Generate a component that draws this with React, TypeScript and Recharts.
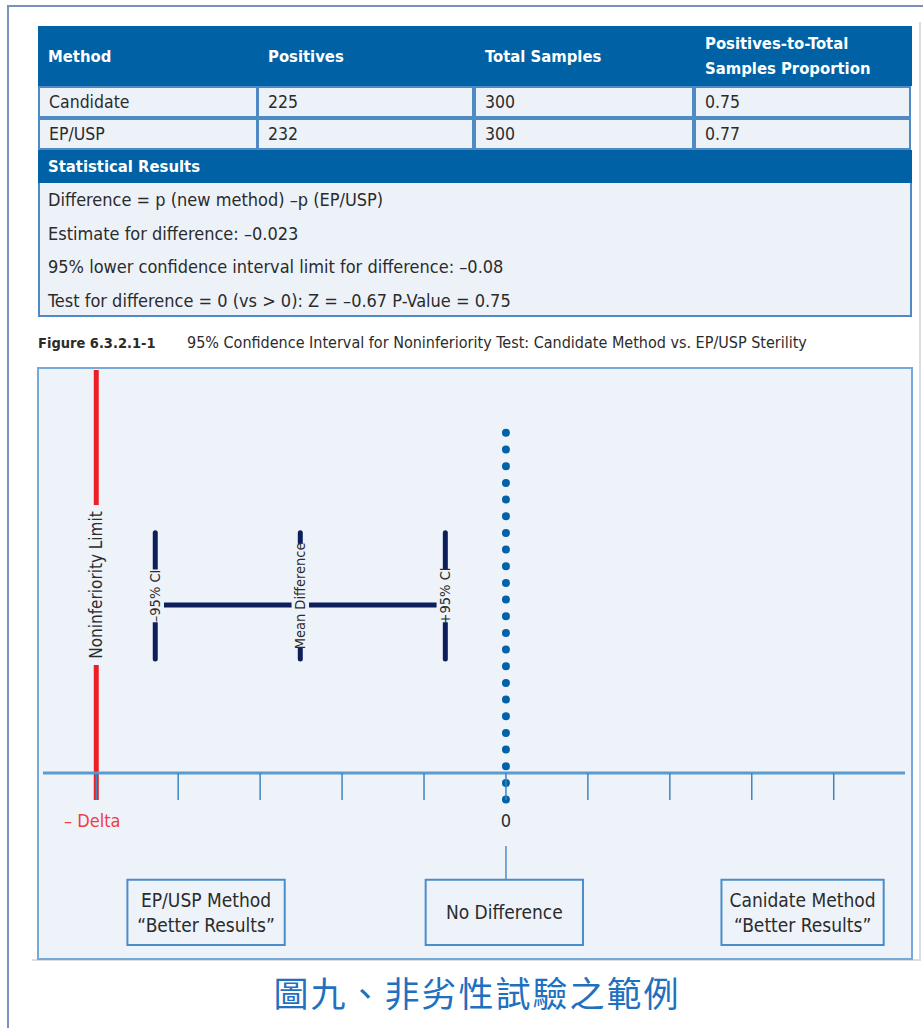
import React from "react";
import {
  ComposedChart,
  Line,
  ReferenceArea,
  ReferenceLine,
  XAxis,
  YAxis,
} from "recharts";

// Tabla de resultados + diagrama del intervalo de confianza (no inferioridad)

const FONT =
  "'DejaVu Sans Condensed', 'Liberation Sans Narrow', 'Liberation Sans', Arial, sans-serif";

const COLORS = {
  frame: "#7b91bb",
  header: "#0062a5",
  border: "#4f8ac4",
  rowBg: "#edf2f9",
  panelBg: "#eef3fa",
  panelBorder: "#74a9d8",
  text: "#2b2b2b",
  red: "#ec1f27",
  redText: "#ee3e44",
  navy: "#0c1f5b",
  dots: "#0062a8",
  axis: "#5a9bd2",
  tick: "#3f86c0",
  box: "#4a8dc8",
  caption: "#1f70bf",
  shadow: "#dddddd",
};

// ---- tabla ----
const tableHeaders = ["Method", "Positives", "Total Samples", "Positives-to-Total\nSamples Proportion"];
const methodNames = ["Candidate", "EP/USP"];
const positives = [225, 232];
const totalSamples = [300, 300];
const proportions = ["0.75", "0.77"];
const statsTitle = "Statistical Results";
const statsLines = [
  "Difference = p (new method) \u2013p (EP/USP)",
  "Estimate for difference: \u20130.023",
  "95% lower confidence interval limit for difference: \u20130.08",
  "Test for difference = 0 (vs > 0): Z = \u20130.67 P-Value = 0.75",
];
const figureNumber = "Figure 6.3.2.1-1";
const figureTitle = "95% Confidence Interval for Noninferiority Test: Candidate Method vs. EP/USP Sterility";
const chineseCaption = "圖九、非劣性試驗之範例";

// ---- diagrama ----
const xDomain = [-5.65, 4.87];
const axisTicks = [-5, -4, -3, -2, -1, 0, 1, 2, 3, 4];
const tickLabels: Record<number, string> = { [-5]: "\u2013 Delta", 0: "0" };
const deltaX = -5;
const limitRange = [100, -6.7];
const limitLabel = "Noninferiority Limit";
const zeroRange = [84.4, -7.1];
const ciY = 41.7;
const ciRange = [59.6, 28.3];
const ciBar = [
  { x: -4.28, y: ciY },
  { x: -0.74, y: ciY },
];
const ciMarkers = [
  { x: -4.28, label: "\u201395% CI" },
  { x: -2.51, label: "Mean Difference" },
  { x: -0.74, label: "+95% CI" },
];
const connectorRange = [-18.1, -26.5];
const resultBoxes = [
  { x1: -4.62, x2: -2.7, y1: -26.5, y2: -42.7, lines: ["EP/USP Method", "\u201cBetter Results\u201d"] },
  { x1: -0.98, x2: 0.94, y1: -26.5, y2: -42.7, lines: ["No Difference"] },
  { x1: 2.63, x2: 4.61, y1: -26.5, y2: -42.7, lines: ["Canidate Method", "\u201cBetter Results\u201d"] },
];

const COLS = [38, 258, 475, 695, 912];

function RotLabel(props: any) {
  const { viewBox, text, fontSize, color, gap } = props;
  const cx = viewBox.x + viewBox.width / 2;
  const cy = viewBox.y + viewBox.height / 2;
  const h = fontSize + 3;
  return (
    <g transform={`rotate(-90 ${cx} ${cy})`}>
      <rect x={cx - gap / 2} y={cy - h / 2} width={gap} height={h} fill={COLORS.panelBg} />
      <text
        x={cx}
        y={cy}
        textAnchor="middle"
        dominantBaseline="central"
        fontSize={fontSize}
        fontFamily={FONT}
        fill={color}
      >
        {text}
      </text>
    </g>
  );
}

function BoxLabel(props: any) {
  const { viewBox, lines } = props;
  const cx = viewBox.x + viewBox.width / 2;
  const cy = viewBox.y + viewBox.height / 2;
  const lh = 25;
  const start = cy - ((lines.length - 1) * lh) / 2;
  return (
    <text textAnchor="middle" fontSize={19} fontFamily={FONT} fill={COLORS.text}>
      {lines.map((l: string, i: number) => (
        <tspan key={i} x={cx} y={start + i * lh} dominantBaseline="central">
          {l}
        </tspan>
      ))}
    </text>
  );
}

function AxisTick(props: any) {
  const { x, y, payload } = props;
  const label = tickLabels[payload.value];
  if (!label) return null;
  const isDelta = payload.value === deltaX;
  return (
    <text
      x={x}
      y={y + 27}
      dx={isDelta ? -4 : 0}
      textAnchor="middle"
      fontSize={18}
      fontFamily={FONT}
      fill={isDelta ? COLORS.redText : COLORS.text}
    >
      {label}
    </text>
  );
}

function ResultsTable() {
  const rowTops = [86, 118];
  return (
    <>
      {/* cabecera */}
      <div style={{ position: "absolute", left: 38, top: 26, width: 874, height: 60, background: COLORS.header }} />
      {tableHeaders.map((h, i) => (
        <div
          key={h}
          style={{
            position: "absolute",
            left: COLS[i] + 10,
            top: 26,
            height: 60,
            display: "flex",
            alignItems: "center",
            color: "#fff",
            fontWeight: "bold",
            fontSize: 16.5,
            lineHeight: "25px",
            whiteSpace: "pre",
          }}
        >
          {h}
        </div>
      ))}
      {/* filas */}
      {methodNames.map((m, r) => {
        const cells = [m, String(positives[r]), String(totalSamples[r]), proportions[r]];
        return cells.map((c, i) => (
          <div
            key={`${r}-${i}`}
            style={{
              position: "absolute",
              left: COLS[i],
              top: rowTops[r],
              width: COLS[i + 1] - COLS[i],
              height: 32,
              boxSizing: "border-box",
              border: `2px solid ${COLORS.border}`,
              marginLeft: i === 0 ? 0 : -1,
              background: COLORS.rowBg,
              paddingLeft: 9,
              display: "flex",
              alignItems: "center",
              color: COLORS.text,
              fontSize: 17.5,
            }}
          >
            {c}
          </div>
        ));
      })}
      {/* resultados estadísticos */}
      <div
        style={{
          position: "absolute",
          left: 38,
          top: 150,
          width: 874,
          height: 33,
          background: COLORS.header,
          color: "#fff",
          fontWeight: "bold",
          fontSize: 16.5,
          display: "flex",
          alignItems: "center",
          paddingLeft: 10,
          boxSizing: "border-box",
        }}
      >
        {statsTitle}
      </div>
      <div
        style={{
          position: "absolute",
          left: 38,
          top: 183,
          width: 874,
          height: 134,
          boxSizing: "border-box",
          border: `2px solid ${COLORS.border}`,
          borderTop: "none",
          background: COLORS.rowBg,
        }}
      />
      {statsLines.map((s, i) => (
        <div
          key={s}
          style={{
            position: "absolute",
            left: 48,
            top: 200 + i * 33.7 - 12,
            height: 24,
            lineHeight: "24px",
            color: COLORS.text,
            fontSize: 18,
            whiteSpace: "pre",
          }}
        >
          {s}
        </div>
      ))}
      {/* pie de figura */}
      <div
        style={{
          position: "absolute",
          left: 38,
          top: 332,
          lineHeight: "22px",
          fontSize: 14.5,
          fontWeight: "bold",
          color: COLORS.text,
        }}
      >
        {figureNumber}
      </div>
      <div style={{ position: "absolute", left: 187, top: 332, lineHeight: "22px", fontSize: 16, color: COLORS.text }}>
        {figureTitle}
      </div>
    </>
  );
}

function CIDiagram() {
  return (
    <ComposedChart
      width={875}
      height={592}
      data={ciBar}
      margin={{ top: 2, right: 8, bottom: 127, left: 5 }}
      style={{ position: "absolute", left: 38, top: 368 }}
    >
      <XAxis
        type="number"
        dataKey="x"
        domain={xDomain}
        ticks={axisTicks}
        allowDataOverflow
        height={60}
        axisLine={{ stroke: COLORS.axis, strokeWidth: 3 }}
        tickLine={{ stroke: COLORS.tick, strokeWidth: 1.5 }}
        tickSize={27}
        tickMargin={0}
        tick={<AxisTick />}
        interval={0}
      />
      <YAxis type="number" domain={[0, 100]} hide allowDataOverflow />

      <Line
        dataKey="y"
        type="linear"
        stroke={COLORS.navy}
        strokeWidth={5}
        dot={false}
        activeDot={false}
        isAnimationActive={false}
      />

      {ciMarkers.map((m) => (
        <ReferenceLine
          key={m.label}
          segment={[
            { x: m.x, y: ciRange[0] },
            { x: m.x, y: ciRange[1] },
          ]}
          stroke={COLORS.navy}
          strokeWidth={5}
          strokeLinecap="round"
          ifOverflow="visible"
          label={(p: any) => (
            <RotLabel
              {...p}
              text={m.label}
              fontSize={14.5}
              color={COLORS.text}
              gap={m.label.length * 6.4 + 8}
            />
          )}
        />
      ))}

      {/* línea de no inferioridad (-Delta) */}
      <ReferenceLine
        segment={[
          { x: deltaX, y: limitRange[0] },
          { x: deltaX, y: limitRange[1] },
        ]}
        stroke={COLORS.red}
        strokeWidth={5}
        ifOverflow="visible"
        label={(p: any) => (
          <RotLabel {...p} text={limitLabel} fontSize={17} color={COLORS.text} gap={160} />
        )}
      />

      {/* sin diferencia: línea punteada en 0 */}
      <ReferenceLine
        segment={[
          { x: 0, y: zeroRange[0] },
          { x: 0, y: zeroRange[1] },
        ]}
        stroke={COLORS.dots}
        strokeWidth={8}
        strokeDasharray="0 16.67"
        strokeLinecap="round"
        ifOverflow="visible"
      />

      <ReferenceLine
        segment={[
          { x: 0, y: connectorRange[0] },
          { x: 0, y: connectorRange[1] },
        ]}
        stroke={COLORS.box}
        strokeWidth={1.5}
        ifOverflow="visible"
      />

      {resultBoxes.map((b) => (
        <ReferenceArea
          key={b.lines[0]}
          x1={b.x1}
          x2={b.x2}
          y1={b.y1}
          y2={b.y2}
          fill={COLORS.panelBg}
          fillOpacity={1}
          stroke={COLORS.box}
          strokeWidth={2}
          ifOverflow="visible"
          label={(p: any) => <BoxLabel {...p} lines={b.lines} />}
        />
      ))}
    </ComposedChart>
  );
}

export default function App() {
  return (
    <div
      style={{
        position: "absolute",
        left: 0,
        top: 0,
        width: 923,
        height: 1028,
        background: "#fff",
        fontFamily: FONT,
        overflow: "hidden",
      }}
    >
      {/* marco exterior */}
      <div style={{ position: "absolute", left: 7, top: 5, width: 916, height: 2, background: COLORS.frame }} />
      <div style={{ position: "absolute", left: 7, top: 5, width: 2, height: 1023, background: COLORS.frame }} />
      <div style={{ position: "absolute", left: 919, top: 22, width: 2, height: 939, background: COLORS.shadow }} />
      <div style={{ position: "absolute", left: 32, top: 959, width: 889, height: 2, background: COLORS.shadow }} />

      <ResultsTable />

      {/* panel del diagrama */}
      <div
        style={{
          position: "absolute",
          left: 37,
          top: 367,
          width: 876,
          height: 593,
          boxSizing: "border-box",
          border: `2px solid ${COLORS.panelBorder}`,
          background: COLORS.panelBg,
        }}
      />
      <CIDiagram />

      <div
        style={{
          position: "absolute",
          left: 0,
          width: 954,
          top: 968,
          textAlign: "center",
          fontFamily: "'Noto Sans CJK TC', 'Noto Sans CJK SC', sans-serif",
          fontSize: 35,
          letterSpacing: 2,
          lineHeight: "48px",
          color: COLORS.caption,
        }}
      >
        {chineseCaption}
      </div>
    </div>
  );
}
